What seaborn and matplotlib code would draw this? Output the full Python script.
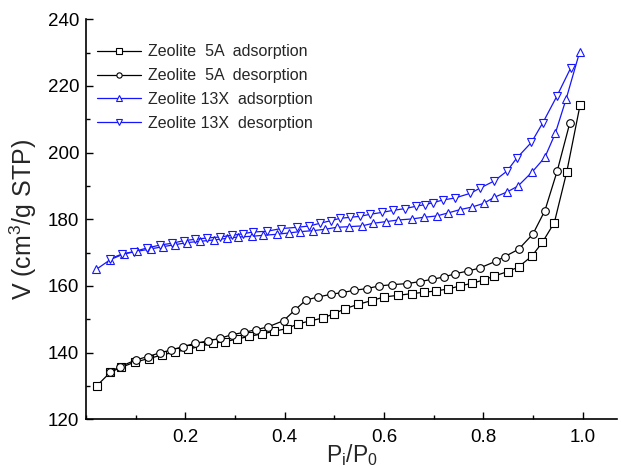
import numpy as np
import pandas as pd
import matplotlib
matplotlib.use("Agg")
import matplotlib.pyplot as plt
import seaborn as sns
from matplotlib.lines import Line2D
from matplotlib.ticker import MultipleLocator

sns.set_theme(style="white")
plt.rcParams['font.family'] = ['Liberation Sans', 'DejaVu Sans']
plt.rcParams['mathtext.fontset'] = 'custom'
plt.rcParams['mathtext.rm'] = 'Liberation Sans'
plt.rcParams['mathtext.it'] = 'Liberation Sans'

# ---- data ----
p_5a_ads = [0.022, 0.049, 0.071, 0.099, 0.126, 0.153, 0.18, 0.205, 0.23, 0.256, 0.28, 0.305, 0.329,
            0.354, 0.379, 0.404, 0.426, 0.451, 0.477, 0.50, 0.522, 0.548, 0.575, 0.60, 0.629, 0.656,
            0.68, 0.704, 0.729, 0.753, 0.777, 0.801, 0.822, 0.849, 0.871, 0.898, 0.919, 0.943, 0.968, 0.995]
v_5a_ads = [130.1, 134.1, 135.6, 137.2, 138.2, 139.3, 140.2, 141.0, 141.9, 142.8, 143.3, 144.1, 144.9,
            145.6, 146.4, 147.2, 148.6, 149.5, 150.4, 151.7, 153.2, 154.5, 155.6, 156.7, 157.2, 157.7,
            158.1, 158.5, 159.1, 160.0, 160.8, 161.8, 163.0, 164.3, 165.7, 169.0, 173.1, 179.0, 194.2, 214.4]

p_5a_des = [0.049, 0.069, 0.10, 0.124, 0.148, 0.172, 0.195, 0.22, 0.245, 0.27, 0.294, 0.319, 0.343,
            0.366, 0.398, 0.42, 0.443, 0.468, 0.493, 0.515, 0.54, 0.565, 0.59, 0.617, 0.646, 0.672,
            0.697, 0.721, 0.744, 0.77, 0.793, 0.825, 0.843, 0.871, 0.90, 0.924, 0.949, 0.974]
v_5a_des = [134.3, 135.8, 137.8, 138.8, 139.9, 140.8, 141.8, 142.8, 143.5, 144.3, 145.4, 146.1, 146.9,
            147.7, 149.6, 152.7, 155.8, 156.7, 157.5, 158.0, 158.7, 159.2, 160.0, 160.4, 160.7, 161.3,
            162.0, 162.7, 163.7, 164.5, 165.4, 167.4, 168.8, 171.0, 175.6, 182.6, 194.6, 208.8]

p_13x_ads = [0.021, 0.049, 0.076, 0.103, 0.13, 0.155, 0.18, 0.203, 0.23, 0.257, 0.284, 0.307, 0.334,
             0.357, 0.384, 0.408, 0.431, 0.458, 0.481, 0.505, 0.53, 0.555, 0.578, 0.604, 0.629, 0.656,
             0.68, 0.706, 0.729, 0.753, 0.778, 0.801, 0.822, 0.848, 0.87, 0.899, 0.924, 0.945, 0.967, 0.994]
v_13x_ads = [165.0, 167.9, 169.6, 170.4, 171.1, 171.8, 172.4, 173.0, 173.4, 173.8, 174.3, 174.7, 174.9,
             175.2, 175.5, 175.9, 176.3, 176.6, 177.0, 177.6, 177.8, 178.0, 178.8, 179.3, 179.8, 180.1,
             180.6, 181.0, 181.9, 182.9, 183.7, 184.8, 186.6, 188.2, 190.0, 194.3, 198.6, 205.8, 216.2, 230.2]

p_13x_des = [0.049, 0.073, 0.096, 0.123, 0.15, 0.173, 0.197, 0.22, 0.244, 0.27, 0.294, 0.317, 0.337,
             0.364, 0.392, 0.425, 0.45, 0.471, 0.493, 0.512, 0.532, 0.552, 0.572, 0.597, 0.619, 0.642,
             0.664, 0.682, 0.699, 0.719, 0.743, 0.774, 0.794, 0.822, 0.848, 0.867, 0.897, 0.92, 0.948, 0.976]
v_13x_des = [168.2, 169.6, 170.3, 171.4, 172.3, 172.8, 173.6, 174.0, 174.4, 174.7, 175.2, 175.7, 176.2,
             176.4, 177.2, 177.6, 178.0, 178.8, 179.6, 180.3, 180.6, 180.9, 181.5, 182.1, 182.7, 183.2,
             183.9, 184.4, 185.0, 185.8, 186.4, 187.8, 189.4, 191.5, 194.5, 198.3, 203.1, 209.0, 216.9, 225.4]

labels = ["Zeolite  5A  adsorption", "Zeolite  5A  desorption",
          "Zeolite 13X  adsorption", "Zeolite 13X  desorption"]
x_ticks = [0.2, 0.4, 0.6, 0.8, 1.0]
y_ticks = [120, 140, 160, 180, 200, 220, 240]

series = [(p_5a_ads, v_5a_ads, 's', 'black'),
          (p_5a_des, v_5a_des, 'o', 'black'),
          (p_13x_ads, v_13x_ads, '^', '#1515ff'),
          (p_13x_des, v_13x_des, 'v', '#1515ff')]

fig = plt.figure(figsize=(6.21, 4.67), dpi=100)
ax = fig.add_axes([86 / 621, (467 - 419.3) / 467, (617.4 - 86) / 621, 400 / 467])

handles = []
for (px, vy, mk, col), lab in zip(series, labels):
    df = pd.DataFrame({"P": px, "V": vy})
    sns.lineplot(data=df, x="P", y="V", ax=ax, sort=False, color=col, lw=0.9,
                 marker=mk, markersize=5.5, markerfacecolor='white',
                 markeredgecolor=col, markeredgewidth=0.8, legend=False)
    handles.append(Line2D([], [], color=col, lw=0.9, marker=mk, markersize=3.8,
                          markerfacecolor='white', markeredgecolor=col, markeredgewidth=0.8))

ax.set_xlim(0, 1.07)
ax.set_ylim(120, 240)
ax.set_xticks(x_ticks)
ax.set_xticklabels([f"{t:.1f}" for t in x_ticks])
ax.set_yticks(y_ticks)
ax.xaxis.set_minor_locator(MultipleLocator(0.1))
ax.yaxis.set_minor_locator(MultipleLocator(10))
ax.tick_params(which='major', direction='in', length=5, width=1, labelsize=13.5,
               bottom=True, left=True, top=False, right=False, colors='black')
ax.tick_params(axis='x', which='major', pad=7)
ax.tick_params(axis='y', which='major', pad=5)
ax.tick_params(which='minor', direction='in', length=3, width=1,
               bottom=True, left=True, top=False, right=False, colors='black')
for s in ['top', 'right']:
    ax.spines[s].set_visible(False)
for s in ['left', 'bottom']:
    ax.spines[s].set_color('black')
    ax.spines[s].set_linewidth(1.2)

ax.set_xlabel(r"P$_\mathregular{i}$/P$_\mathregular{0}$", fontsize=16.5, labelpad=-3)
ax.set_ylabel(r"V (cm$^\mathregular{3}$/g STP)", fontsize=18, labelpad=6)

leg = ax.legend(handles, labels, loc='upper left', bbox_to_anchor=(0.0, 0.965), frameon=False,
                fontsize=11.5, handlelength=2.75, handletextpad=0.45, labelspacing=0.55,
                borderaxespad=0.3)

fig.savefig("out.png", dpi=100)
